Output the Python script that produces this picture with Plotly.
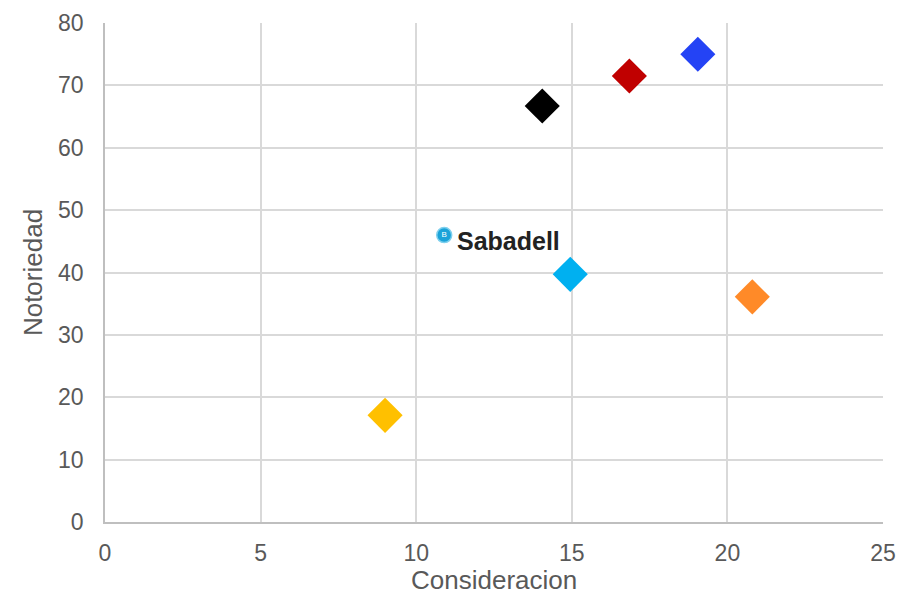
import plotly.graph_objects as go

consideracion = [9.0, 14.05, 16.85, 19.05, 14.95, 20.8]
notoriedad = [17.1, 66.7, 71.5, 75.0, 39.7, 36.1]
colors = ["#FFC000", "#000000", "#C00000", "#2443F5", "#00B0F0", "#FF8A28"]

logo_text = "Sabadell"
logo_x, logo_y = 12.95, 45.0
logo_icon_x, logo_icon_y = 10.9, 46.0

x_ticks = [0, 5, 10, 15, 20, 25]
y_ticks = [0, 10, 20, 30, 40, 50, 60, 70, 80]

fig = go.Figure()
fig.add_trace(go.Scatter(
    x=consideracion, y=notoriedad, mode="markers",
    marker=dict(symbol="diamond", size=27, color=colors, line=dict(width=0)),
    showlegend=False, hoverinfo="x+y",
))
fig.add_trace(go.Scatter(
    x=[logo_icon_x], y=[logo_icon_y], mode="markers+text",
    marker=dict(symbol="circle", size=15, color="#1AA3D9", line=dict(width=1.5, color="#7FD0EE")),
    text=["B"], textposition="middle center",
    textfont=dict(size=8, color="white", family="Liberation Sans"),
    showlegend=False, hoverinfo="skip",
))
fig.add_annotation(
    x=logo_x, y=logo_y, text="<b>" + logo_text + "</b>", showarrow=False,
    font=dict(family="Liberation Sans", size=25, color="#222222"),
)
fig.add_annotation(
    x=0.5, y=-0.117, xref="paper", yref="paper", yanchor="middle",
    text="Consideracion", showarrow=False, borderpad=0,
    font=dict(family="Liberation Sans", size=26, color="#595959"),
)

axis_common = dict(
    showgrid=True, gridcolor="#D9D9D9", gridwidth=1.5,
    showline=True, linecolor="#BFBFBF", linewidth=1.5,
    zeroline=False, ticks="", mirror=False, automargin=False,
    tickfont=dict(family="Liberation Sans", size=23, color="#595959"),
    title_font=dict(family="Liberation Sans", size=26, color="#595959"),
)
fig.update_xaxes(range=[0, 25], tickvals=x_ticks,
                 ticklabelstandoff=10, **axis_common)
fig.update_yaxes(range=[0, 80], tickvals=y_ticks, title_text="Notoriedad",
                 ticklabelstandoff=15, title_standoff=8, **axis_common)

fig.update_layout(
    width=900, height=598,
    margin=dict(l=105, r=17, t=23, b=76),
    plot_bgcolor="white", paper_bgcolor="white",
    font=dict(family="Liberation Sans"),
)
fig.write_html("out.html")
